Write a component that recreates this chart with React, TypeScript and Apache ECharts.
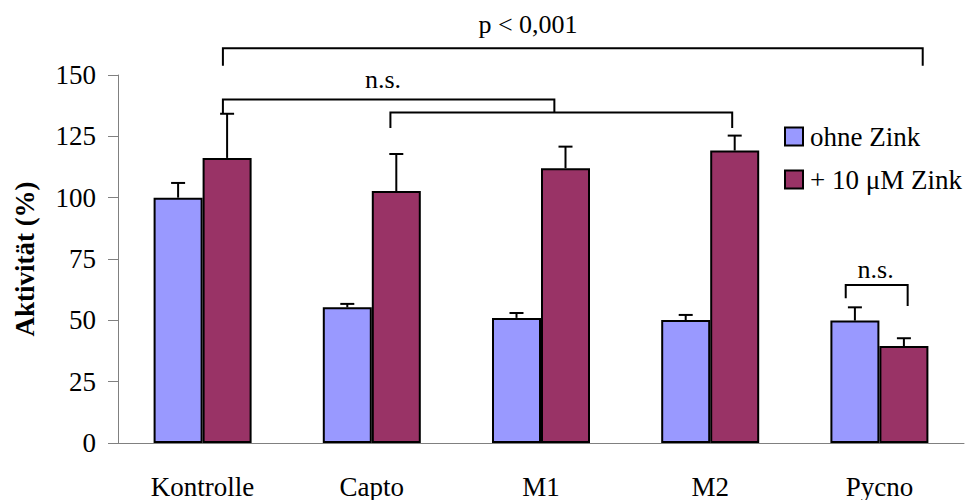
import React, { useEffect, useRef } from "react";
import * as echarts from "echarts";

const categories = ["Kontrolle", "Capto", "M1", "M2", "Pycno"];
const seriesNames = ["ohne Zink", "+ 10 μM Zink"];
const ohneZink = [100, 55.3, 51, 50.1, 49.9];
const ohneZinkErr = [106, 56.7, 53, 52.2, 55.3];
const mitZink = [116.2, 102.7, 112, 119.2, 39.5];
const mitZinkErr = [134.2, 117.8, 120.8, 125.3, 42.7];
const yTicks = [0, 25, 50, 75, 100, 125, 150];

// brackets: endpoints as category index + fraction of a category width
const brackets = [
  { l: 0.12, r: 4.256, top: 160.9, dl: 153.8, dr: 153.8 },
  { l: 0.12, r: 2.079, top: 140.0, dl: 134.3, dr: 134.7 },
  { l: 1.11, r: 3.13, top: 134.7, dl: 128.4, dr: 128.4 },
  { l: 3.801, r: 4.167, top: 64.4, dl: 59.0, dr: 55.8 },
];
const labels = [
  { x: 1.923, y: 170.6, text: "p < 0,001" },
  { x: 1.066, y: 148.2, text: "n.s." },
  { x: 3.978, y: 70.7, text: "n.s." },
];

const BAR_W = 49;
const FONT = "Liberation Serif";

export default function App() {
  const ref = useRef<HTMLDivElement>(null);
  useEffect(() => {
    const chart = echarts.init(ref.current!, undefined, { renderer: "svg" });

    const xPix = (api: any, pos: number, yVal: number) => {
      const i = Math.floor(pos + 0.5);
      const frac = pos - i;
      const c = api.coord([i, yVal]);
      const w = api.size([1, 0])[0];
      return [c[0] + frac * w, c[1]];
    };

    const errSeries = (vals: number[], errs: number[], offset: number) => ({
      type: "custom",
      z: 5,
      silent: true,
      data: vals.map((v, i) => [i, v, errs[i]]),
      renderItem: (params: any, api: any) => {
        const i = api.value(0);
        const base = api.coord([i, api.value(1)]);
        const top = api.coord([i, api.value(2)]);
        const cx = base[0] + offset;
        const st = { stroke: "#000", lineWidth: 2 };
        return {
          type: "group",
          children: [
            { type: "line", shape: { x1: cx, y1: base[1], x2: cx, y2: top[1] }, style: st },
            { type: "line", shape: { x1: cx - 7, y1: top[1], x2: cx + 7, y2: top[1] }, style: st },
          ],
        };
      },
    });

    chart.setOption({
      animation: false,
      textStyle: { fontFamily: FONT, color: "#000" },
      grid: { left: 118, right: 10, top: 75, bottom: 57 },
      legend: {
        data: seriesNames,
        orient: "vertical",
        left: 779,
        top: 118,
        icon: "rect",
        itemWidth: 18,
        itemHeight: 18,
        itemGap: 16,
        itemStyle: { borderColor: "#000", borderWidth: 2 },
        textStyle: { fontFamily: FONT, fontSize: 27, color: "#000", padding: [0, 0, 0, 2] },
      },
      xAxis: {
        type: "category",
        data: categories,
        axisLine: { lineStyle: { color: "#808080", width: 1 } },
        axisTick: { length: 9, lineStyle: { color: "#808080" } },
        axisLabel: { fontFamily: FONT, fontSize: 27, color: "#000", margin: 30 },
      },
      yAxis: {
        type: "value",
        min: 0,
        max: 150,
        interval: 25,
        name: "Aktivität (%)",
        nameLocation: "middle",
        nameGap: 80,
        nameTextStyle: { fontFamily: FONT, fontSize: 27, fontWeight: "bold", color: "#000" },
        axisLine: { show: true, lineStyle: { color: "#808080", width: 1 } },
        axisTick: { show: true, length: 10, lineStyle: { color: "#808080" } },
        axisLabel: {
          fontFamily: FONT,
          fontSize: 27,
          color: "#000",
          margin: 22,
          formatter: (v: number) => (yTicks.includes(v) ? String(v) : ""),
        },
        splitLine: { show: false },
      },
      series: [
        {
          name: seriesNames[0],
          type: "bar",
          data: ohneZink,
          barWidth: BAR_W,
          barGap: "0%",
          itemStyle: { color: "#9999FF", borderColor: "#000", borderWidth: 2 },
        },
        {
          name: seriesNames[1],
          type: "bar",
          data: mitZink,
          barWidth: BAR_W,
          barGap: "0%",
          itemStyle: { color: "#993366", borderColor: "#000", borderWidth: 2 },
        },
        errSeries(ohneZink, ohneZinkErr, -BAR_W / 2),
        errSeries(mitZink, mitZinkErr, BAR_W / 2),
        {
          type: "custom",
          z: 6,
          silent: true,
          clip: false,
          data: brackets.map((b) => [Math.round(b.l), b.top]),
          renderItem: (params: any, api: any) => {
            const b = brackets[params.dataIndex];
            const L = xPix(api, b.l, b.top);
            const R = xPix(api, b.r, b.top);
            const yl = api.coord([0, b.dl])[1];
            const yr = api.coord([0, b.dr])[1];
            return {
              type: "polyline",
              shape: { points: [[L[0], yl], [L[0], L[1]], [R[0], R[1]], [R[0], yr]] },
              style: { stroke: "#000", lineWidth: 2, fill: null },
            };
          },
        },
        {
          type: "custom",
          z: 6,
          silent: true,
          clip: false,
          data: labels.map((t) => [Math.round(t.x), t.y]),
          renderItem: (params: any, api: any) => {
            const t = labels[params.dataIndex];
            const p = xPix(api, t.x, t.y);
            return {
              type: "text",
              x: p[0],
              y: p[1],
              style: {
                text: t.text,
                fontFamily: FONT,
                fontSize: 26,
                fill: "#000",
                align: "center",
                verticalAlign: "middle",
              },
            };
          },
        },
      ],
    });
    return () => chart.dispose();
  }, []);
  return (
    <div
      ref={ref}
      style={{ position: "fixed", left: 0, top: 0, width: 974, height: 500, background: "#fff" }}
    />
  );
}
